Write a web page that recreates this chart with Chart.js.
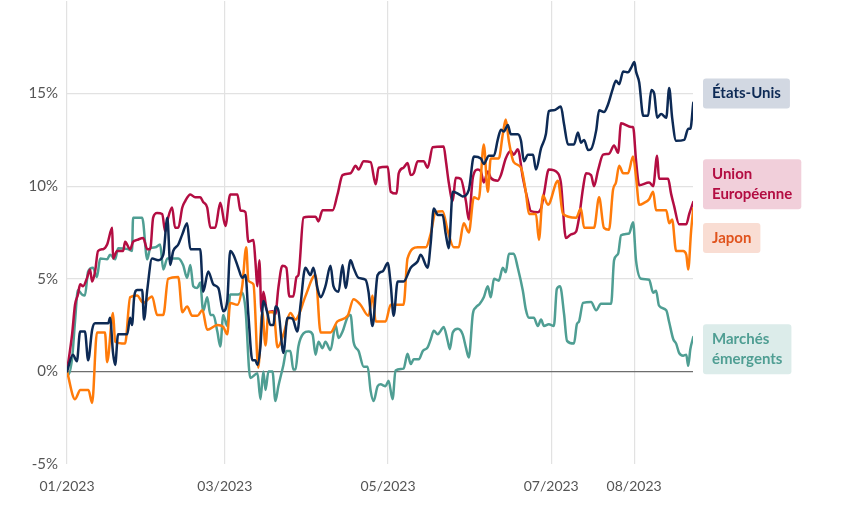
<!DOCTYPE html>
<html lang="fr">
<head>
<meta charset="utf-8">
<script src="https://cdn.jsdelivr.net/npm/chart.js@4.4.0/dist/chart.umd.min.js"></script>
<style>
  html, body { margin: 0; padding: 0; background: #fff; }
  #wrap { width: 843px; height: 506px; }
</style>
</head>
<body>
<div id="wrap"><canvas id="chart"></canvas></div>
<script>
//Jours depuis le 01/01/2023 et performance cumulée (%)
const usDays = [0, 2.2, 3.7, 4.9, 6.7, 7.9, 9.4, 10.5, 15.4, 16.1, 17.2, 18, 19.1, 22.5, 23.6, 24.3, 25.1, 26.2, 28.1, 28.8, 30, 31.8, 34.1, 36, 37.5, 38.6, 39.7, 41.6, 43.1, 44.9, 46.1, 49.8, 50.9, 52.8, 54.7, 56.6, 58.4, 59.9, 61, 62.2, 64, 65.5, 66.7, 67.8, 69.3, 70.4, 71.2, 72.3, 73.4, 74.9, 76, 77.2, 77.9, 79, 80.9, 82.4, 84.3, 86.1, 87.3, 89.1, 91, 92.1, 93.6, 94.8, 96.6, 98.5, 99.6, 101.5, 103, 104.1, 106, 107.1, 109, 111.6, 112.7, 114.2, 116.1, 118, 119.9, 121, 122.1, 123.6, 125.8, 128.5, 131.1, 132.2, 134.8, 136, 137.1, 138.6, 140.4, 141.6, 142.7, 144.2, 146.1, 147.9, 150.2, 152.1, 154.7, 155.8, 157.7, 159.6, 161, 162.2, 163.3, 164.8, 165.9, 168.5, 169.7, 170.8, 172.3, 174.2, 175.3, 177.2, 179, 180.1, 182, 184.6, 185.8, 187.3, 189.5, 191, 192.1, 193.3, 194.8, 195.9, 197.8, 198.9, 200.7, 202.2, 204.1, 205.2, 206.4, 207.9, 209.7, 210.9, 212.1, 212.7, 213.9, 215.4, 217.2, 218.4, 219.5, 220.6, 222.1, 224, 225.1, 226.2, 227.7, 230.7, 232.2, 233, 234.1];
const usValues = [0, 0.9, 0.55, 2.15, 2.15, 0.6, 2.25, 2.6, 2.6, 2.9, 1.0, 0.35, 2.0, 2.0, 2.9, 2.5, 4.0, 4.4, 4.4, 2.8, 4.4, 6.1, 6.0, 6.3, 8.3, 5.75, 6.5, 6.85, 7.4, 8.0, 6.6, 6.6, 4.3, 5.4, 4.7, 4.5, 3.25, 3.8, 6.5, 6.3, 5.6, 5.05, 5.2, 3.05, 0.6, 0.6, 0.35, 1.35, 3.8, 3.15, 2.5, 2.5, 3.5, 3.3, 1.0, 2.9, 2.85, 2.15, 3.6, 5.6, 5.2, 5.6, 4.5, 4.0, 4.6, 5.7, 4.6, 4.3, 5.75, 4.5, 6.0, 5.6, 5.05, 4.95, 4.3, 2.45, 5.2, 5.4, 5.85, 4.7, 3.0, 4.85, 4.85, 5.6, 5.95, 6.3, 5.6, 7.0, 8.8, 8.45, 8.45, 7.4, 6.65, 9.7, 9.6, 9.45, 9.8, 11.6, 11.5, 11.2, 11.65, 11.65, 12.5, 13.05, 12.95, 13.3, 12.8, 12.8, 12.45, 11.35, 11.7, 11.7, 10.9, 12.05, 12.8, 14.05, 14.1, 14.3, 13.35, 12.25, 12.25, 12.9, 12.35, 12.5, 11.95, 12.0, 13.0, 14.1, 14.0, 14.4, 15.3, 15.7, 15.5, 16.2, 16.15, 16.4, 16.7, 16.2, 15.6, 13.8, 13.8, 15.2, 15.0, 13.7, 13.9, 13.7, 15.3, 13.7, 12.45, 12.5, 13.1, 13.1, 14.5];

const ueDays = [0, 1.9, 3, 4.1, 4.9, 6, 7.5, 8.6, 9.4, 10.5, 11.6, 13.5, 15, 16.9, 17.2, 18.7, 21, 21.7, 23.6, 24.7, 26.2, 28.5, 30, 31.1, 32.2, 33.7, 35.6, 36.7, 37.8, 39.3, 40.4, 41.6, 43.1, 44.2, 46.1, 47.9, 49.8, 50.9, 52.4, 53.6, 55.4, 57.3, 59.2, 61, 63.7, 64.8, 66.7, 67.8, 69.7, 70.4, 71.2, 71.9, 72.7, 73.4, 74.9, 76.8, 77.9, 79, 80.5, 82, 83.1, 84.6, 85.8, 86.5, 88.4, 90.3, 92.9, 94, 95.5, 99.3, 101.1, 103, 106, 107.9, 109, 110.9, 113.5, 115.4, 116.5, 119.9, 121, 123.2, 124, 125.8, 127.3, 128.5, 129.6, 131.1, 133.3, 134.8, 136.7, 140.8, 141.6, 142.7, 144.2, 145.3, 147.2, 149.1, 150.2, 151.7, 153.6, 154.7, 155.8, 157.3, 158.4, 161, 162.2, 164, 165.9, 167, 168.5, 170.4, 172.3, 173.4, 176, 177.2, 178.3, 180.1, 183.5, 184.6, 186.5, 188.4, 190.3, 191.4, 192.9, 194, 195.9, 197, 198.5, 200.4, 202.6, 204.5, 206, 207.1, 210.9, 211.6, 212.7, 213.9, 217.6, 219.1, 220.6, 221.3, 224.7, 225.8, 226.9, 228.8, 231.5, 232.6, 234.1];
const ueValues = [0, 2.0, 3.6, 4.15, 4.7, 4.6, 5.05, 5.5, 4.85, 5.4, 6.5, 6.6, 6.85, 7.75, 6.1, 6.5, 6.5, 7.0, 6.6, 7.0, 7.1, 7.2, 6.6, 6.6, 8.3, 8.55, 8.5, 7.55, 8.3, 8.85, 7.75, 7.75, 8.85, 9.2, 9.55, 9.4, 9.4, 9.15, 8.85, 7.75, 7.75, 9.1, 7.85, 9.55, 9.55, 8.7, 8.6, 7.0, 7.1, 6.0, 4.6, 6.0, 3.2, 4.3, 3.2, 3.25, 3.1, 4.5, 5.7, 5.6, 4.05, 4.05, 5.1, 5.2, 8.3, 8.35, 8.35, 8.1, 8.7, 8.7, 9.55, 10.6, 10.7, 11.1, 10.9, 11.35, 11.3, 10.1, 11.0, 11.05, 9.7, 9.6, 10.7, 11.0, 11.25, 10.6, 10.7, 11.35, 11.35, 11.0, 12.1, 12.15, 11.4, 10.2, 9.2, 10.45, 10.4, 9.2, 8.2, 10.45, 10.9, 10.8, 10.2, 10.8, 10.45, 10.3, 10.6, 11.5, 11.9, 11.7, 12.0, 10.45, 9.2, 8.65, 8.6, 8.8, 9.6, 10.9, 10.7, 10.2, 7.2, 7.4, 7.55, 8.3, 9.9, 10.7, 10.6, 10.0, 10.85, 11.7, 11.75, 12.2, 11.8, 13.4, 13.2, 13.2, 11.4, 10.05, 10.2, 10.0, 11.65, 10.4, 10.4, 9.6, 8.95, 7.95, 7.95, 8.5, 9.15];

const jpDays = [0, 3, 5, 8, 9.4, 11.2, 14.2, 15, 17.2, 18, 21.7, 23.6, 26.2, 28.5, 31.8, 33.7, 36, 37.8, 41.6, 43.1, 44.9, 46.8, 48.7, 50.6, 52.4, 56.2, 58.4, 59.9, 61, 63.7, 65.5, 67, 67.8, 69.7, 71.5, 73, 74.2, 75.3, 77.2, 78.7, 80.9, 83.5, 85.4, 86.5, 89.1, 92.9, 94.8, 98.5, 101.1, 104.9, 107.1, 109.7, 112.7, 114.2, 115.4, 119.1, 121, 125.8, 127.3, 131.1, 134.1, 135.9, 137.8, 140.4, 142.3, 144.6, 146.4, 148.3, 150.2, 152.1, 153.9, 155.8, 157.3, 158.4, 161.4, 162.9, 164, 165.2, 167, 169.7, 171.5, 172.7, 175.3, 176.4, 177.9, 179.8, 183.5, 185.4, 190.3, 192.1, 193.3, 197, 198.9, 200.7, 202.6, 204.1, 205.2, 206.4, 207.9, 209.7, 211.6, 212.7, 213.9, 215.7, 217.6, 219.1, 220.2, 224, 225.1, 226.2, 227.7, 230.3, 231.5, 232.2, 233.3, 234.1];
const jpValues = [0, -1.5, -1.0, -1.0, -1.7, 2.1, 2.1, 0.5, 3.15, 1.6, 1.5, 4.0, 4.1, 3.7, 4.05, 3.05, 3.05, 5.0, 5.1, 3.2, 3.5, 3.0, 3.0, 3.3, 2.25, 2.5, 2.4, 2.0, 3.7, 3.6, 4.6, 6.7, 4.9, 4.7, 0.2, 3.2, 1.4, 3.2, 3.2, 1.3, 2.0, 3.15, 2.8, 3.0, 4.05, 5.2, 2.1, 2.1, 2.7, 3.0, 3.9, 3.6, 3.0, 4.1, 2.7, 2.7, 3.6, 3.6, 6.1, 6.7, 6.7, 7.4, 8.6, 8.65, 7.6, 6.7, 6.7, 8.0, 7.5, 9.4, 9.3, 12.25, 9.7, 11.5, 11.5, 12.8, 13.6, 12.4, 11.3, 11.0, 9.7, 8.5, 8.5, 7.1, 9.5, 9.0, 10.3, 8.5, 8.3, 8.8, 7.75, 7.75, 9.4, 7.75, 7.65, 9.8, 10.2, 11.1, 10.7, 10.7, 11.6, 10.5, 9.0, 9.1, 9.3, 9.7, 8.7, 8.7, 8.0, 8.2, 6.5, 6.5, 6.3, 5.5, 7.6, 8.8];

const emDays = [0, 0.4, 1.9, 3, 4.1, 5.6, 6.7, 7.9, 9.7, 11.2, 12.4, 15, 16.1, 18, 19.1, 22.8, 24.3, 24.7, 28.1, 30, 31.1, 33, 34.8, 36, 37.5, 41.6, 43.4, 44.9, 46.1, 47.2, 48.7, 49.8, 50.9, 52.4, 53.6, 54.7, 56.2, 57.3, 58.4, 59.9, 61, 64, 65.5, 66.7, 68.5, 71.2, 72.3, 73.4, 74.2, 75.3, 76.8, 77.9, 79, 80.9, 82, 83.5, 84.6, 85.4, 86.5, 88.4, 90.3, 91.8, 92.9, 94, 95.5, 96.6, 98.5, 100.4, 101.5, 103, 104.9, 106, 107.1, 109, 110.9, 112.4, 113.5, 114.6, 116.1, 117.2, 119.1, 120.2, 121.7, 122.8, 125.8, 127.3, 128.5, 129.6, 131.5, 133, 134.8, 136, 137.1, 138.6, 139.7, 140.8, 142.3, 143.1, 144.2, 146.1, 147.9, 149.1, 150.2, 151.7, 152.8, 154.3, 155.8, 157.3, 158.4, 159.6, 161.4, 162.9, 164, 165.2, 167, 168.5, 170.4, 171.5, 172.7, 174.5, 176, 177.2, 178.3, 180.1, 182, 183.1, 184.3, 185.8, 186.9, 189.5, 190.6, 191.4, 192.9, 195.9, 197.8, 199.6, 203.4, 204.5, 206, 207.1, 210.1, 211.6, 212.7, 214.6, 217.6, 219.1, 220.2, 221.3, 224, 225.1, 226.6, 227.7, 228.8, 230.3, 231.5, 232.2, 233, 234.1];
const emValues = [0, -0.2, 0.7, 2.7, 4.4, 4.15, 4.1, 5.4, 5.6, 5.1, 6.1, 6.05, 6.3, 6.05, 6.65, 6.6, 6.5, 8.3, 8.3, 6.05, 6.65, 6.7, 6.85, 5.5, 6.1, 6.1, 5.75, 5.05, 5.75, 4.6, 4.5, 4.8, 3.25, 4.0, 3.05, 3.05, 2.15, 1.35, 3.05, 2.45, 4.15, 4.15, 4.25, 3.4, -0.35, -0.1, -1.5, 0, -1.0, 0, 0, -1.6, -0.8, 0.35, 1.1, 1.1, 0.1, 0.1, 1.35, 2.05, 2.15, 2.0, 0.9, 1.6, 1.25, 1.6, 1.15, 2.5, 1.8, 2.15, 2.95, 3.05, 1.6, 1.1, 0.25, 0.25, -1.05, -1.6, -0.8, -0.7, -0.8, -0.5, -1.5, 0.05, 0.15, 0.95, 0.4, 0.65, 0.65, 1.1, 1.3, 1.75, 2.2, 2.0, 2.2, 2.4, 1.65, 1.2, 2.1, 2.3, 2.0, 1.3, 0.75, 3.1, 3.45, 3.65, 4.0, 4.6, 4.0, 5.0, 4.9, 5.6, 5.35, 6.35, 6.35, 5.6, 4.35, 3.35, 2.9, 2.9, 2.45, 2.8, 2.45, 2.55, 2.45, 4.45, 4.6, 3.1, 1.65, 1.5, 2.55, 2.7, 3.7, 3.75, 3.3, 3.65, 3.65, 6.0, 6.35, 7.35, 7.45, 8.05, 6.0, 5.0, 4.95, 4.25, 4.35, 3.55, 3.3, 2.65, 1.75, 1.5, 1.0, 0.85, 0.9, 0.3, 1.2, 1.85];

//Axe X : repères de mois (jours depuis le 01/01/2023)
const monthTicks = [0, 59, 120, 181, 212];
const monthLabels = ['01/2023', '03/2023', '05/2023', '07/2023', '08/2023'];

//Étiquettes à droite
const seriesNames = [['États-Unis'], ['Union', 'Européenne'], ['Japon'], ['Marchés', 'émergents']];
const labelLevels = [15, 10.1, 7.2, 1.2];

const lineColors = ['#0d2a55', '#b30d42', '#ff7b0a', '#4f9e93'];
const labelText = ['#0d2a55', '#b30d42', '#e0531d', '#4f9e93'];
const labelBg = ['#d2d8e2', '#f1cfda', '#f9ddd3', '#dcecea'];

const FONT = 'Lato, "Source Sans Pro", "Noto Sans", sans-serif';

function toPoints(days, values) {
  return days.map((d, i) => ({ x: d, y: values[i] }));
}

//Plugin pour les étiquettes colorées à droite du graphique
const sideLabels = {
  id: 'sideLabels',
  afterDraw(chart) {
    const ctx = chart.ctx;
    const yScale = chart.scales.y;
    const left = chart.chartArea.right + 10;
    ctx.save();
    ctx.font = '700 15px ' + FONT;
    ctx.textBaseline = 'middle';
    seriesNames.forEach((lines, i) => {
      const w = Math.max(...lines.map(t => ctx.measureText(t).width)) + 18;
      const h = lines.length * 20 + 10;
      const cy = yScale.getPixelForValue(labelLevels[i]);
      const top = cy - h / 2;
      ctx.fillStyle = labelBg[i];
      ctx.beginPath();
      ctx.roundRect(left, top, w, h, 3);
      ctx.fill();
      ctx.fillStyle = labelText[i];
      lines.forEach((t, j) => {
        ctx.fillText(t, left + 9, top + 15 + j * 20);
      });
    });
    ctx.restore();
  }
};

const datasets = [
  { label: 'États-Unis', data: toPoints(usDays, usValues), color: lineColors[0] },
  { label: 'Japon', data: toPoints(jpDays, jpValues), color: lineColors[2] },
  { label: 'Union Européenne', data: toPoints(ueDays, ueValues), color: lineColors[1] },
  { label: 'Marchés émergents', data: toPoints(emDays, emValues), color: lineColors[3] }
].map(ds => ({
  label: ds.label,
  data: ds.data,
  borderColor: ds.color,
  borderWidth: 2.5,
  pointRadius: 0,
  fill: false,
  cubicInterpolationMode: 'monotone',
  borderJoinStyle: 'round',
  borderCapStyle: 'round'
}));

new Chart(document.getElementById('chart'), {
  type: 'line',
  data: { datasets },
  plugins: [sideLabels],
  options: {
    responsive: true,
    maintainAspectRatio: false,
    animation: false,
    layout: { padding: { top: 1, right: 150, bottom: 0, left: 0 } },
    plugins: {
      legend: { display: false },
      tooltip: { enabled: false }
    },
    scales: {
      x: {
        type: 'linear',
        min: 0,
        max: 234,
        border: { display: false },
        grid: { color: '#e2e2e2', lineWidth: 1.2, drawTicks: false },
        afterBuildTicks(scale) {
          scale.ticks = monthTicks.map(v => ({ value: v }));
        },
        afterFit(scale) {
          scale.height = 42;
          scale.paddingLeft = 0;
          scale.paddingRight = 0;
        },
        ticks: {
          autoSkip: false,
          maxRotation: 0,
          padding: 14,
          color: '#555',
          font: { family: FONT, size: 14 },
          callback: v => monthLabels[monthTicks.indexOf(v)] || ''
        }
      },
      y: {
        min: -5,
        max: 20,
        border: { display: false },
        afterBuildTicks(scale) {
          scale.ticks = [-5, 0, 5, 10, 15].map(v => ({ value: v }));
        },
        afterFit(scale) {
          scale.width = 67;
          scale.paddingTop = 0;
          scale.paddingBottom = 0;
        },
        grid: {
          drawTicks: false,
          lineWidth: 1.2,
          color: c => {
            if (c.tick.value === 0) return '#6e6e6e';
            if (c.tick.value === -5) return 'rgba(0,0,0,0)';
            return '#e2e2e2';
          }
        },
        ticks: {
          padding: 9,
          color: '#555',
          font: { family: FONT, size: 15 },
          callback: v => v + '%'
        }
      }
    }
  }
});
</script>
</body>
</html>
